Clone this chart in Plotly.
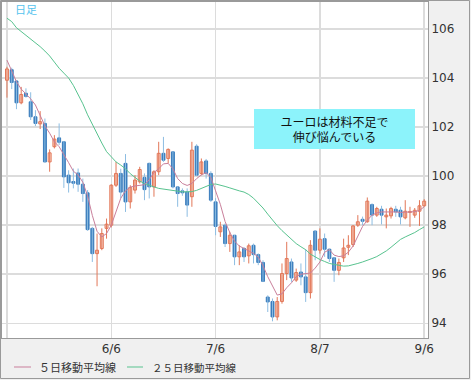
import plotly.graph_objects as go

# ---- data (EUR/JPY daily, 89 trading days) ----
x_labels = ["", "6/6", "7/6", "8/7", "9/6"]
x_tick_idx = [0, 22, 44, 66, 88]
y_ticks = [94, 96, 98, 100, 102, 104, 106]

opens = [103.91, 104.34, 103.88, 102.99, 103.38, 103.03, 102.42, 102.13, 102.15, 100.58,
         101.20, 101.56, 101.40, 100.04, 99.78, 100.13, 99.67, 99.32, 97.87, 96.84,
         97.05, 97.87, 98.00, 99.63, 100.11, 100.52, 98.95, 99.43, 99.77, 99.95,
         100.52, 99.56, 100.18, 100.93, 100.72, 100.99, 99.56, 99.40, 99.36, 99.16,
         101.22, 100.11, 100.62, 100.11, 98.95, 97.73, 98.00, 97.25, 97.59, 96.71,
         97.05, 96.75, 97.18, 96.80, 96.48, 95.07, 94.89, 94.26, 94.89, 96.03,
         96.50, 95.76, 96.09, 95.89, 95.25, 97.76, 96.98, 97.45, 97.02, 96.67,
         96.16, 96.67, 97.10, 97.21, 98.00, 98.24, 98.14, 98.84, 98.41, 98.65,
         98.34, 98.38, 98.65, 98.61, 98.30, 98.52, 98.41, 98.57, 98.79]
highs = [104.46, 104.42, 103.92, 103.64, 103.58, 103.42, 102.69, 102.65, 102.35, 101.09,
         101.67, 102.15, 101.43, 100.24, 100.31, 100.31, 99.90, 99.43, 97.93, 97.66,
         97.87, 98.27, 99.67, 100.58, 100.30, 100.90, 99.63, 100.04, 100.38, 100.11,
         100.55, 100.24, 101.40, 101.60, 101.13, 101.00, 99.56, 99.50, 99.50, 101.40,
         101.30, 100.72, 100.70, 100.20, 99.10, 98.14, 98.07, 97.73, 97.60, 97.18,
         97.11, 97.25, 97.25, 96.85, 96.57, 95.14, 95.01, 95.07, 96.44, 97.32,
         96.64, 96.23, 96.44, 97.02, 97.39, 97.80, 97.87, 97.66, 97.05, 96.70,
         96.64, 97.45, 97.59, 98.00, 98.41, 98.35, 99.13, 98.89, 98.75, 98.79,
         98.68, 98.75, 98.79, 98.75, 99.02, 98.75, 98.70, 99.02, 99.06]
lows = [103.20, 103.55, 102.73, 102.93, 103.20, 102.29, 102.04, 101.92, 100.56, 100.18,
        101.13, 101.27, 99.52, 99.33, 99.50, 99.36, 98.95, 97.77, 96.50, 95.51,
        96.98, 97.45, 97.91, 99.56, 99.10, 98.54, 98.68, 99.29, 99.70, 99.02,
        99.09, 99.16, 100.04, 100.58, 100.52, 99.50, 98.75, 99.20, 98.34, 98.75,
        100.00, 100.04, 99.90, 98.95, 97.59, 97.52, 97.11, 96.91, 96.37, 96.37,
        96.50, 96.44, 96.44, 96.37, 95.68, 94.46, 94.08, 94.12, 94.80, 95.76,
        95.69, 95.69, 95.55, 94.87, 95.01, 96.57, 96.84, 96.71, 96.50, 95.69,
        95.96, 96.50, 96.78, 97.11, 97.93, 98.00, 98.10, 98.00, 98.34, 98.03,
        97.87, 98.27, 98.34, 98.03, 98.24, 97.93, 98.30, 97.97, 98.75]
closes = [104.37, 103.82, 102.99, 103.33, 103.25, 102.42, 102.15, 102.22, 100.58, 100.95,
          101.51, 101.38, 99.97, 99.73, 99.71, 99.67, 99.29, 97.82, 96.84, 96.98,
          97.66, 98.04, 99.63, 100.11, 99.35, 98.95, 99.54, 99.84, 100.27, 99.45,
          99.56, 100.18, 100.93, 100.65, 101.09, 99.56, 99.29, 99.32, 98.82, 101.06,
          100.04, 100.58, 100.11, 99.02, 97.95, 97.93, 97.25, 97.59, 96.71, 96.91,
          96.71, 97.16, 96.80, 96.48, 95.71, 94.87, 94.26, 94.89, 96.03, 96.64,
          95.85, 96.07, 95.89, 95.25, 97.18, 96.98, 97.43, 97.02, 96.64, 96.16,
          96.48, 97.07, 97.18, 97.97, 98.14, 98.16, 98.98, 98.41, 98.68, 98.41,
          98.41, 98.68, 98.54, 98.34, 98.57, 98.56, 98.61, 98.79, 98.98]
ma5 = [104.73, 104.25, 103.85, 103.55, 103.35, 103.15, 102.90, 102.45, 102.05, 101.75,
       101.40, 101.20, 100.90, 100.55, 100.20, 100.05, 99.75, 99.20, 98.40, 97.75,
       97.52, 97.66, 98.00, 98.55, 99.10, 99.40, 99.55, 99.60, 99.62, 99.65,
       99.85, 100.15, 100.30, 100.50, 100.52, 100.30, 99.90, 99.70, 99.62, 99.70,
       99.90, 100.05, 100.14, 99.95, 99.40, 98.85, 98.15, 97.70, 97.35, 97.15,
       97.05, 96.95, 96.85, 96.70, 96.35, 95.90, 95.50, 95.15, 95.20, 95.45,
       95.65, 95.90, 96.00, 96.02, 96.05, 96.25, 96.50, 96.90, 97.00, 96.78,
       96.72, 96.75, 96.90, 97.15, 97.55, 97.95, 98.20, 98.41, 98.50, 98.54,
       98.54, 98.55, 98.54, 98.52, 98.52, 98.52, 98.55, 98.60, 98.75]
ma25 = [106.44, 106.30, 106.05, 105.90, 105.75, 105.60, 105.45, 105.28, 105.10, 104.90,
        104.65, 104.40, 104.20, 104.00, 103.70, 103.35, 102.95, 102.50, 102.10, 101.70,
        101.35, 101.00, 100.80, 100.58, 100.45, 100.30, 100.10, 99.95, 99.80, 99.70,
        99.62, 99.56, 99.50, 99.47, 99.44, 99.42, 99.38, 99.36, 99.36, 99.37,
        99.42, 99.50, 99.58, 99.66, 99.68, 99.64, 99.58, 99.52, 99.45, 99.40,
        99.35, 99.25, 99.10, 98.92, 98.70, 98.45, 98.20, 97.98, 97.78, 97.60,
        97.45, 97.25, 97.12, 97.00, 96.82, 96.70, 96.60, 96.52, 96.44, 96.40,
        96.36, 96.33, 96.34, 96.38, 96.44, 96.50, 96.56, 96.64, 96.72, 96.82,
        96.95, 97.10, 97.28, 97.42, 97.52, 97.60, 97.70, 97.82, 97.93]

label_ma5 = "５日移動平均線"
label_ma25 = "２５日移動平均線"
title_text = "日足"
note_text = "ユーロは材料不足で<br>伸び悩んでいる"

# ---- styles ----
UP_LINE = "#e27758"
UP_FILL = "#fbd9cd"
DN_BODY = "#3a7dbd"
DN_WICK = "#8dbde2"
MA5_COL = "#c97f9b"
MA25_COL = "#58c38f"
JP_FONT = "Noto Sans CJK JP"

idx = list(range(len(opens)))
is_up = [c >= o for o, c in zip(opens, closes)]

# wick segments
wx_up, wy_up, wx_dn, wy_dn = [], [], [], []
for i in idx:
    if is_up[i]:
        wx_up += [i, i, None]
        wy_up += [lows[i], highs[i], None]
    else:
        wx_dn += [i, i, None]
        wy_dn += [lows[i], highs[i], None]

body_lo = [min(o, c) for o, c in zip(opens, closes)]
body_h = [abs(c - o) for o, c in zip(opens, closes)]
body_fill = [UP_FILL if u else DN_BODY for u in is_up]
body_line = [UP_LINE if u else DN_BODY for u in is_up]

fig = go.Figure()
fig.add_trace(go.Scatter(x=wx_dn, y=wy_dn, mode="lines",
                         line=dict(color=DN_WICK, width=1), hoverinfo="skip", showlegend=False))
fig.add_trace(go.Scatter(x=wx_up, y=wy_up, mode="lines",
                         line=dict(color=UP_LINE, width=1), hoverinfo="skip", showlegend=False))
fig.add_trace(go.Bar(x=idx, y=body_h, base=body_lo, width=0.62,
                     marker=dict(color=body_fill, line=dict(color=body_line, width=1)),
                     hoverinfo="skip", showlegend=False))
fig.add_trace(go.Scatter(x=idx, y=ma25, mode="lines", line=dict(color=MA25_COL, width=1),
                         name=label_ma25, showlegend=False))
fig.add_trace(go.Scatter(x=idx, y=ma5, mode="lines", line=dict(color=MA5_COL, width=1),
                         name=label_ma5, showlegend=False))

# pixel geometry helpers (plot area: x 2..428, y 2..338)
L, R, T, B = 2, 428, 2, 338
def px(xp):
    return (xp - L) / (R - L)
def py(yp):
    return (B - yp) / (B - T)

shapes = [
    dict(type="rect", xref="paper", yref="paper", x0=px(0.5), x1=px(469.5),
         y0=py(378.5), y1=py(0.5), line=dict(color="#9a9a9a", width=1), layer="below"),
    dict(type="line", xref="paper", yref="paper", x0=px(14), x1=px(31),
         y0=py(367), y1=py(367), line=dict(color=MA5_COL, width=1)),
    dict(type="line", xref="paper", yref="paper", x0=px(127), x1=px(143),
         y0=py(367), y1=py(367), line=dict(color=MA25_COL, width=1)),
]
annotations = [
    dict(xref="paper", yref="paper", x=px(37), y=py(367), xanchor="left", yanchor="middle",
         text=label_ma5, showarrow=False, font=dict(family=JP_FONT, size=11, color="#333333")),
    dict(xref="paper", yref="paper", x=px(150), y=py(367), xanchor="left", yanchor="middle",
         text=label_ma25, showarrow=False, font=dict(family=JP_FONT, size=10.5, color="#333333")),
    dict(xref="paper", yref="paper", x=px(13), y=py(9), xanchor="left", yanchor="middle",
         text=title_text, showarrow=False, font=dict(family=JP_FONT, size=11, color="#55c3ee")),
    dict(xref="paper", yref="paper", x=px(334.5), y=py(129), xanchor="center", yanchor="middle",
         text=note_text, showarrow=False, bgcolor="#8cf3fb", width=161, height=40,
         borderpad=0, borderwidth=0, align="center",
         font=dict(family=JP_FONT, size=12, color="#111111")),
]

fig.update_layout(
    width=471, height=380,
    margin=dict(l=L, r=471 - R, t=T, b=380 - B),
    paper_bgcolor="#f0f0f0", plot_bgcolor="#ffffff",
    shapes=shapes, annotations=annotations, barmode="overlay",
    font=dict(family="DejaVu Sans", size=12, color="#333333"),
    xaxis=dict(range=[-1.05, 88.8], tickmode="array", tickvals=x_tick_idx, ticktext=x_labels,
               showgrid=True, gridcolor="#dcdcdc", gridwidth=1.5, zeroline=False,
               showline=True, linecolor="#9a9a9a", mirror=True, ticks="",
               fixedrange=True,
               tickfont=dict(family="DejaVu Sans", size=12, color="#333333")),
    yaxis=dict(range=[93.40, 107.10], side="right", tickmode="array", tickvals=y_ticks,
               showgrid=True, gridcolor="#dcdcdc", gridwidth=1.5, zeroline=False,
               showline=True, linecolor="#9a9a9a", mirror=True, ticks="",
               fixedrange=True,
               tickfont=dict(family="DejaVu Sans", size=12, color="#333333")),
    hovermode=False,
)

fig.write_html("out.html", config={"displayModeBar": False, "staticPlot": True},
               post_script="document.body.style.margin='0px';")
